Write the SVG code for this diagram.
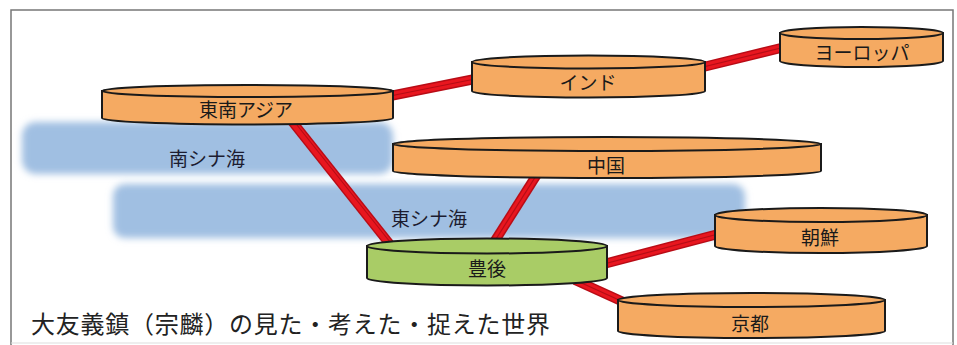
<svg xmlns="http://www.w3.org/2000/svg" width="957" height="345" viewBox="0 0 957 345">
<defs>
<filter id="blur" x="-10%" y="-40%" width="120%" height="180%"><feGaussianBlur stdDeviation="3.5"/></filter>
<style>
.frame{fill:none;stroke:#777;stroke-width:1.5}
.sea{fill:#a0bfe2;filter:url(#blur)}
.seatxt{font-family:"Noto Sans CJK JP","Noto Sans CJK SC",sans-serif;font-size:19px;fill:#1c1c30;text-anchor:middle;dominant-baseline:central}
.cyl{fill:#f5aa62;stroke:#1a1a1a;stroke-width:2}
.cylg{fill:#a9cc66;stroke:#1a1a1a;stroke-width:2}
.lbl{font-family:"Noto Sans CJK JP","Noto Sans CJK SC",sans-serif;font-size:19px;fill:#1a1a1a;text-anchor:middle;dominant-baseline:central}
.lo{stroke:#b80c16;stroke-width:10;stroke-linecap:butt;fill:none}
.li{stroke:#e8161f;stroke-width:7;stroke-linecap:butt;fill:none}
.ls{stroke:#b50d16;stroke-width:1.2;fill:none}
.title{font-family:"Noto Sans CJK JP","Noto Sans CJK SC",sans-serif;font-size:24px;fill:#222;dominant-baseline:central}
</style>
</defs>
<rect x="0" y="0" width="957" height="345" fill="#fff"/>
<path class="frame" d="M11,345 L11,10 L953,10 L953,345"/>
<line x1="11" y1="343" x2="953" y2="343" stroke="#ddd" stroke-width="1"/>

<g id="seas">
<rect class="sea" x="22" y="122" width="371" height="52" rx="14"/>
<rect class="sea" x="113" y="184" width="632" height="54" rx="12"/>
<text class="seatxt" x="207" y="157">南シナ海</text>
<text class="seatxt" x="429" y="217">東シナ海</text>
</g>

<g id="connectors">
<g class="c"><line class="lo" x1="385" y1="97" x2="480" y2="78"/><line class="li" x1="385" y1="97" x2="480" y2="78"/><line class="ls" x1="385" y1="97" x2="480" y2="78"/></g>
<g class="c"><line class="lo" x1="695" y1="69" x2="785" y2="47"/><line class="li" x1="695" y1="69" x2="785" y2="47"/><line class="ls" x1="695" y1="69" x2="785" y2="47"/></g>
<g class="c"><line class="lo" x1="287" y1="115" x2="392" y2="247"/><line class="li" x1="287" y1="115" x2="392" y2="247"/><line class="ls" x1="289" y1="115" x2="394" y2="247"/></g>
<g class="c"><line class="lo" x1="541" y1="168" x2="491" y2="247"/><line class="li" x1="541" y1="168" x2="491" y2="247"/><line class="ls" x1="541" y1="168" x2="491" y2="247"/></g>
<g class="c"><line class="lo" x1="600" y1="265" x2="722" y2="233"/><line class="li" x1="600" y1="265" x2="722" y2="233"/><line class="ls" x1="600" y1="265" x2="722" y2="233"/></g>
<g class="c"><line class="lo" x1="575" y1="280" x2="630" y2="305"/><line class="li" x1="575" y1="280" x2="630" y2="305"/><line class="ls" x1="575" y1="280" x2="630" y2="305"/></g>
</g>

<g id="tonan-asia">
<path class="cyl" d="M102,91 L102,118 A145.5,6.5 0 0 0 393,118 L393,91 Z"/>
<ellipse class="cyl" cx="247.5" cy="91" rx="145.5" ry="6"/>
<text class="lbl" x="246" y="108">東南アジア</text>
</g>

<g id="india">
<path class="cyl" d="M472,62 L472,91 A116.5,6.5 0 0 0 705,91 L705,62 Z"/>
<ellipse class="cyl" cx="588.5" cy="62" rx="116.5" ry="6.5"/>
<text class="lbl" x="588" y="81">インド</text>
</g>

<g id="europe">
<path class="cyl" d="M780,33 L780,61 A81.5,6 0 0 0 943,61 L943,33 Z"/>
<ellipse class="cyl" cx="861.5" cy="33" rx="81.5" ry="6"/>
<text class="lbl" x="862" y="51">ヨーロッパ</text>
</g>

<g id="china">
<path class="cyl" d="M393,144 L393,171 A214,7 0 0 0 821,171 L821,144 Z"/>
<ellipse class="cyl" cx="607" cy="144" rx="214" ry="7"/>
<text class="lbl" x="606" y="164">中国</text>
</g>

<g id="bungo">
<path class="cylg" d="M367,246 L367,278 A120,7.5 0 0 0 607,278 L607,246 Z"/>
<ellipse class="cylg" cx="487" cy="246" rx="120" ry="7.5"/>
<text class="lbl" x="487" y="267">豊後</text>
</g>

<g id="chosen">
<path class="cyl" d="M715,215 L715,246 A106,7 0 0 0 927,246 L927,215 Z"/>
<ellipse class="cyl" cx="821" cy="215" rx="106" ry="7"/>
<text class="lbl" x="820" y="236">朝鮮</text>
</g>

<g id="kyoto">
<path class="cyl" d="M618,300 L618,331 A133.5,7 0 0 0 885,331 L885,300 Z"/>
<ellipse class="cyl" cx="751.5" cy="300" rx="133.5" ry="7"/>
<text class="lbl" x="750" y="322">京都</text>
</g>

<text class="title" x="31" y="322" textLength="519" lengthAdjust="spacing">大友義鎮（宗麟）の見た・考えた・捉えた世界</text>
</svg>
